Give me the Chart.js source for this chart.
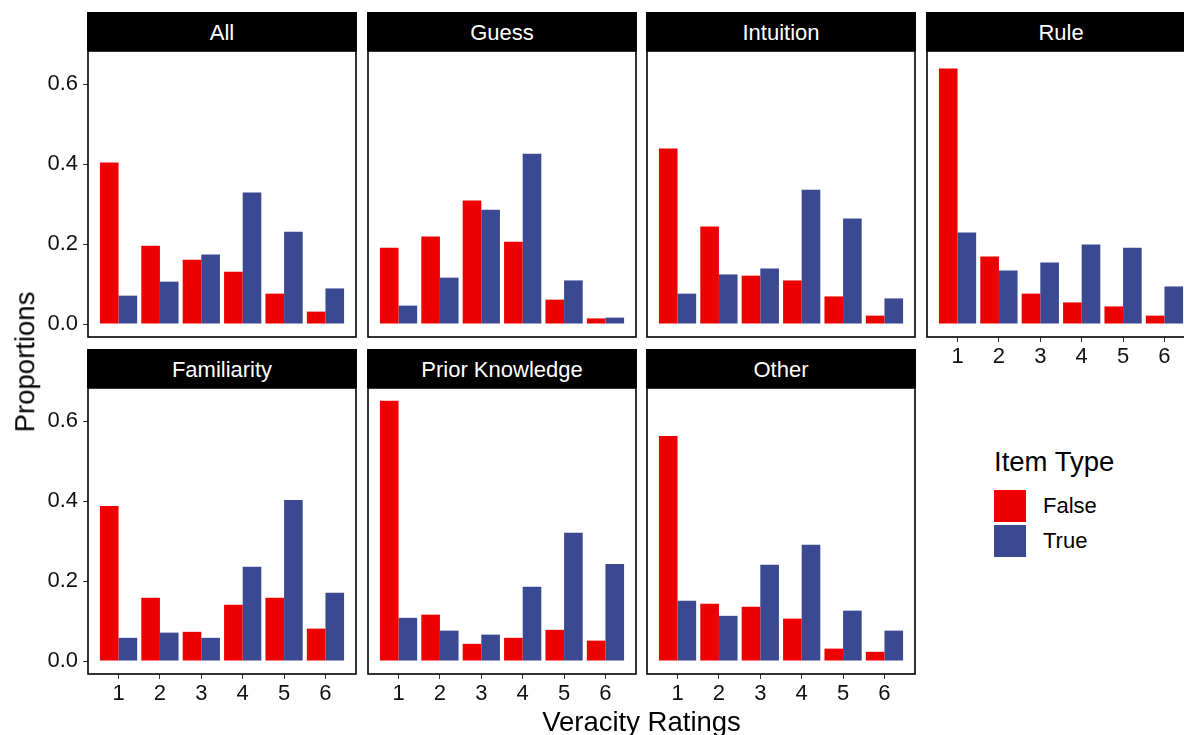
<!DOCTYPE html>
<html>
<head>
<meta charset="utf-8">
<script src="https://cdn.jsdelivr.net/npm/chart.js@4.4.1/dist/chart.umd.min.js"></script>
<style>
html,body{margin:0;padding:0;background:#fff;width:1184px;height:735px;overflow:hidden;position:relative;font-family:"Liberation Sans",Arial,Helvetica,sans-serif;}
canvas{position:absolute;}
.strip{position:absolute;background:#000;color:#fff;font-size:22px;text-align:center;height:39px;line-height:41px;white-space:nowrap;}
.txt{position:absolute;color:#000;white-space:nowrap;line-height:1;}
.key{position:absolute;width:32px;height:32px;}
</style>
</head>
<body>
<script>
// ---- data ----
const ratings = ['1', '2', '3', '4', '5', '6'];
const yTickValues = [0, 0.2, 0.4, 0.6];
const facetNames = ['All', 'Guess', 'Intuition', 'Rule', 'Familiarity', 'Prior Knowledge', 'Other'];
const seriesNames = ['False', 'True'];

const allFalse = [0.404, 0.196, 0.161, 0.131, 0.076, 0.031];
const allTrue = [0.071, 0.106, 0.174, 0.329, 0.231, 0.089];
const guessFalse = [0.191, 0.219, 0.309, 0.206, 0.061, 0.014];
const guessTrue = [0.046, 0.116, 0.286, 0.426, 0.109, 0.016];
const intuitionFalse = [0.439, 0.244, 0.121, 0.109, 0.069, 0.021];
const intuitionTrue = [0.076, 0.124, 0.139, 0.336, 0.264, 0.064];
const ruleFalse = [0.639, 0.169, 0.076, 0.054, 0.044, 0.021];
const ruleTrue = [0.229, 0.134, 0.154, 0.199, 0.191, 0.094];
const familiarityFalse = [0.388, 0.158, 0.073, 0.141, 0.158, 0.081];
const familiarityTrue = [0.058, 0.071, 0.058, 0.236, 0.403, 0.171];
const priorFalse = [0.651, 0.116, 0.043, 0.058, 0.078, 0.051];
const priorTrue = [0.108, 0.076, 0.066, 0.186, 0.321, 0.243];
const otherFalse = [0.563, 0.143, 0.136, 0.106, 0.031, 0.023];
const otherTrue = [0.151, 0.113, 0.241, 0.291, 0.126, 0.076];

const facetFalse = [allFalse, guessFalse, intuitionFalse, ruleFalse, familiarityFalse, priorFalse, otherFalse];
const facetTrue = [allTrue, guessTrue, intuitionTrue, ruleTrue, familiarityTrue, priorTrue, otherTrue];

// ---- style / layout ----
const RED = '#EE0000', BLUE = '#3B4992';
const FONT = '"Liberation Sans", Arial, Helvetica, sans-serif';
const colLefts = [88, 368, 647, 927];
const rowTops = [51, 388];
const PW = 268, PH = 286;
const AXW = 60, AXH = 40, PADT = 2, PADR = 4;

Chart.defaults.font.family = FONT;

const borderPlugin = {
  id: 'panelBorder',
  afterDatasetsDraw(chart) {
    const a = chart.chartArea, ctx = chart.ctx;
    ctx.save();
    ctx.strokeStyle = '#000';
    ctx.lineWidth = 1.6;
    ctx.strokeRect(a.left, a.top, a.right - a.left, a.bottom - a.top);
    ctx.restore();
  }
};

function zeroPad(s) { s.paddingTop = 0; s.paddingBottom = 0; s.paddingLeft = 0; s.paddingRight = 0; }

function addDiv(cls, text, style) {
  const d = document.createElement('div');
  d.className = cls;
  if (text !== null) d.textContent = text;
  Object.assign(d.style, style);
  document.body.appendChild(d);
  return d;
}

facetNames.forEach((name, idx) => {
  const col = idx % 4, row = Math.floor(idx / 4);
  const L = colLefts[col], T = rowTops[row];
  const showY = col === 0;
  const showX = row === 1 || col === 3;

  addDiv('strip', name, {left: (L - 1) + 'px', top: (T - 39) + 'px', width: (PW + 2) + 'px'});

  const c = document.createElement('canvas');
  c.width = AXW + PW + PADR;
  c.height = PADT + PH + AXH;
  c.style.left = (L - AXW) + 'px';
  c.style.top = (T - PADT) + 'px';
  c.style.width = c.width + 'px';
  c.style.height = c.height + 'px';
  document.body.appendChild(c);

  new Chart(c.getContext('2d'), {
    type: 'bar',
    data: {
      datasets: [
        {label: seriesNames[0], data: facetFalse[idx].map((v, i) => ({x: i + 1, y: v})), backgroundColor: RED, borderWidth: 0},
        {label: seriesNames[1], data: facetTrue[idx].map((v, i) => ({x: i + 1, y: v})), backgroundColor: BLUE, borderWidth: 0}
      ]
    },
    options: {
      responsive: false,
      animation: false,
      devicePixelRatio: 1,
      layout: {padding: {top: PADT, right: PADR, left: 0, bottom: 0}, autoPadding: false},
      plugins: {legend: {display: false}, tooltip: {enabled: false}},
      datasets: {bar: {categoryPercentage: 0.9, barPercentage: 1}},
      scales: {
        x: {
          type: 'linear',
          offset: false,
          min: 0.262, max: 6.738,
          afterBuildTicks(s) { s.ticks = ratings.map((r, i) => ({value: i + 1})); },
          afterFit(s) { s.height = AXH; zeroPad(s); },
          ticks: {display: showX, callback: (v, i) => ratings[i], color: '#111', font: {size: 22}, padding: 2, maxRotation: 0, autoSkip: false},
          grid: {offset: false, drawOnChartArea: false, drawTicks: showX, tickLength: 5, color: '#333', lineWidth: 1},
          border: {display: false}
        },
        y: {
          min: -0.0325, max: 0.683,
          afterBuildTicks(s) { s.ticks = yTickValues.map(v => ({value: v})); },
          afterFit(s) { s.width = AXW; zeroPad(s); },
          ticks: {display: showY, callback: (v) => Number(v).toFixed(1), color: '#111', font: {size: 22}, padding: 5},
          grid: {drawOnChartArea: false, drawTicks: showY, tickLength: 5, color: '#333', lineWidth: 1},
          border: {display: false}
        }
      }
    },
    plugins: [borderPlugin]
  });
});

// axis titles
addDiv('txt', 'Proportions', {fontSize: '27.5px', left: '25px', top: '362px', transform: 'translate(-50%,-50%) rotate(-90deg)'});
addDiv('txt', 'Veracity Ratings', {fontSize: '27.5px', left: '641.5px', top: '708px', transform: 'translateX(-50%)'});

// legend
addDiv('txt', 'Item Type', {fontSize: '27.5px', left: '994px', top: '448px'});
addDiv('key', null, {left: '994px', top: '490px', background: RED});
addDiv('key', null, {left: '994px', top: '525px', background: BLUE});
addDiv('txt', seriesNames[0], {fontSize: '22px', left: '1043px', top: '490px', lineHeight: '32px'});
addDiv('txt', seriesNames[1], {fontSize: '22px', left: '1043px', top: '525px', lineHeight: '32px'});
</script>
</body>
</html>
